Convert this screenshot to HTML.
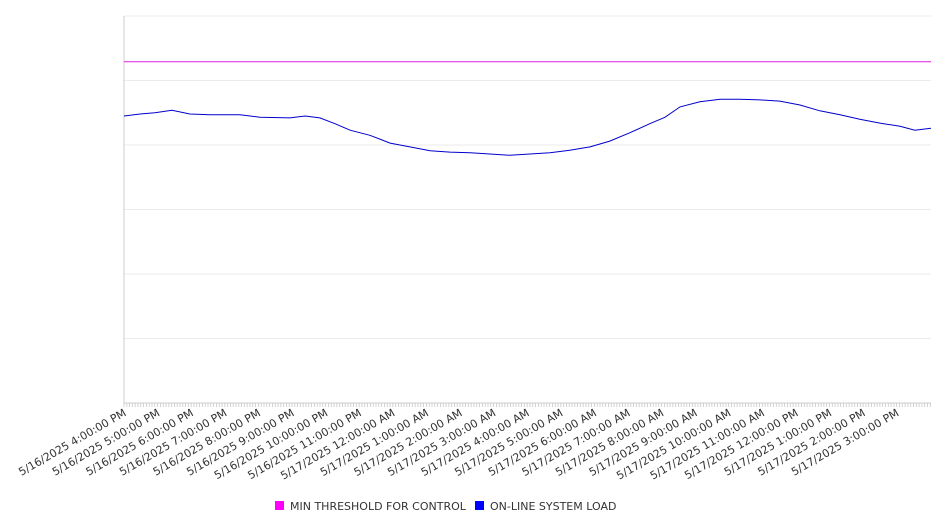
<!DOCTYPE html>
<html><head><meta charset="utf-8"><style>
body{margin:0;background:#fff;font-family:"DejaVu Sans","Liberation Sans",sans-serif}
</style></head><body>
<svg width="946" height="526" xmlns="http://www.w3.org/2000/svg">
<g id="grid"></g><g id="ticks"></g><g id="series"></g><g id="labels"></g>
<g font-size="11" fill="#333">
<g><rect x="275" y="501" width="9" height="9" fill="#ff00ff"/><text x="290" y="510">MIN THRESHOLD FOR CONTROL</text></g>
<g><rect x="475" y="501" width="9" height="9" fill="#0000ff"/><text x="490" y="510">ON-LINE SYSTEM LOAD</text></g>
</g>
</svg>
<script>
const hours=[0,0.48,0.92,1.43,1.96,2.56,3.45,4.05,4.94,5.39,5.83,6.28,6.73,7.32,7.92,8.51,9.11,9.70,10.30,10.89,11.49,12.08,12.68,13.27,13.87,14.46,15.06,15.65,16.10,16.55,17.14,17.74,18.33,18.93,19.52,20.12,20.71,21.31,21.90,22.50,23.10,23.54,24.02];
const loadValues=[445,448,450,454,448,447,447,443,442,445,442,433,423,415,403,397,391,389,388,386,384,386,388,392,397,406,419,433,443,459,467,471,471,470,468,462,453,447,440,434,429,423,426];
const thresholdValue=529;
const yTicks=[0,100,200,300,400,500,600];
const xLabels=["5/16/2025 4:00:00 PM","5/16/2025 5:00:00 PM","5/16/2025 6:00:00 PM","5/16/2025 7:00:00 PM","5/16/2025 8:00:00 PM","5/16/2025 9:00:00 PM","5/16/2025 10:00:00 PM","5/16/2025 11:00:00 PM","5/17/2025 12:00:00 AM","5/17/2025 1:00:00 AM","5/17/2025 2:00:00 AM","5/17/2025 3:00:00 AM","5/17/2025 4:00:00 AM","5/17/2025 5:00:00 AM","5/17/2025 6:00:00 AM","5/17/2025 7:00:00 AM","5/17/2025 8:00:00 AM","5/17/2025 9:00:00 AM","5/17/2025 10:00:00 AM","5/17/2025 11:00:00 AM","5/17/2025 12:00:00 PM","5/17/2025 1:00:00 PM","5/17/2025 2:00:00 PM","5/17/2025 3:00:00 PM"];
const L=124,R=931,T=16,B=403,NS="http://www.w3.org/2000/svg";
const xs=h=>L+h*(R-L)/24.02;
const ys=v=>B-(v-yTicks[0])*(B-T)/(yTicks[yTicks.length-1]-yTicks[0]);
function mk(t,a,p){const e=document.createElementNS(NS,t);for(const k in a)e.setAttribute(k,a[k]);p.appendChild(e);return e;}
const grid=document.getElementById('grid');
yTicks.forEach(v=>{const l=mk('line',{x1:L,x2:R,y1:ys(v),y2:ys(v),stroke:'#ebebeb'},grid);

});
const ax=mk('line',{x1:L,x2:L,y1:T,y2:B,stroke:'#ccc'},grid);


const xa=mk('line',{x1:L,x2:R,y1:B,y2:B,stroke:'#ccc'},grid);


const tk=document.getElementById('ticks');
let d='';for(let m=0;m<=24*60;m+=5){const x=xs(m/60);if(x>R)break;d+=`M${x.toFixed(1)} ${B}v4`;}
const tp=mk('path',{d:d,stroke:'#c8c8c8','stroke-width':0.8},tk);


const s=document.getElementById('series');
const th=mk('line',{x1:L,x2:R,y1:ys(thresholdValue),y2:ys(thresholdValue),stroke:'#e020e0','stroke-width':1},s);


const pts=hours.map((h,i)=>xs(h).toFixed(1)+','+ys(loadValues[i]).toFixed(1)).join(' ');
const pl=mk('polyline',{points:pts,fill:'none',stroke:'#0000cc','stroke-width':1},s);


const lb=document.getElementById('labels');
xLabels.forEach((t,i)=>{const x=xs(i)+3,y=B+12;
const e=mk('text',{x:x,y:y,'text-anchor':'end','font-size':11,fill:'#333',transform:`rotate(-30 ${x} ${y})`},lb);
e.textContent=t;

});
</script>
</body></html>
